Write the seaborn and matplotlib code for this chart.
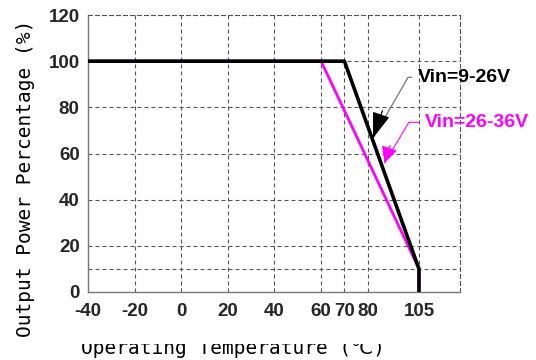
import matplotlib
matplotlib.use("Agg")
import matplotlib.pyplot as plt
import seaborn as sns
import pandas as pd
import numpy as np
from matplotlib.patches import Rectangle

# ---- data ----
temp_9_26 = [-40, 70, 105, 105]
power_9_26 = [100, 100, 10, 0]
temp_26_36 = [-40, 60, 105, 105]
power_26_36 = [100, 100, 10, 0]
x_ticks = [-40, -20, 0, 20, 40, 60, 70, 80, 105]
x_tick_labels = ["-40", "-20", "0", "20", "40", "60", "70", "80", "105"]
y_ticks = [0, 20, 40, 60, 80, 100, 120]
y_tick_labels = ["0", "20", "40", "60", "80", "100", "120"]
label_9_26 = "Vin=9-26V"
label_26_36 = "Vin=26-36V"

df1 = pd.DataFrame({"t": temp_9_26, "p": power_9_26})
df2 = pd.DataFrame({"t": temp_26_36, "p": power_26_36})

sns.set_style("white")

fig = plt.figure(figsize=(5.36, 3.6), dpi=100)
ax = fig.add_axes([88/536, 1-292/360, (460-88)/536, (292-15)/360])

# piecewise axis (original drawing compresses the range above 80)
def fwd(x):
    x = np.asarray(x, dtype=float)
    return np.where(x <= 80, x, 80 + (x - 80) * 0.88)

def inv(x):
    x = np.asarray(x, dtype=float)
    return np.where(x <= 80, x, 80 + (x - 80) / 0.88)

ax.set_xscale("function", functions=(fwd, inv))
ax.set_xlim(-40, 125)
ax.set_ylim(0, 120)

grid_kw = dict(color="#555555", lw=0.8, linestyle=(0, (3.6, 2.7)), zorder=1)
for xv in x_ticks[1:]:
    ax.axvline(xv, **grid_kw)
for yv in [10, 20, 40, 60, 80, 100]:
    ax.axhline(yv, **grid_kw)

sns.lineplot(data=df2, x="t", y="p", ax=ax, color="#FF00FF", lw=2.0,
             estimator=None, sort=False, zorder=3)
sns.lineplot(data=df1, x="t", y="p", ax=ax, color="black", lw=2.6,
             estimator=None, sort=False, zorder=4)

for s in ["left", "bottom"]:
    ax.spines[s].set_color("#777777")
    ax.spines[s].set_linewidth(1.0)
for s in ["top", "right"]:
    ax.spines[s].set_color("#555555")
    ax.spines[s].set_linewidth(0.8)
    ax.spines[s].set_linestyle((0, (3.6, 2.7)))

ax.set_xticks(x_ticks)
ax.set_xticklabels(x_tick_labels)
ax.set_yticks(y_ticks)
ax.set_yticklabels(y_tick_labels)
ax.minorticks_off()
ax.tick_params(axis="both", length=0, labelsize=13.5)
ax.tick_params(axis="x", pad=8)
ax.tick_params(axis="y", pad=6)
for t in ax.get_xticklabels() + ax.get_yticklabels():
    t.set_fontweight("bold")
    t.set_family("Liberation Sans")
ax.set_xlabel("")
ax.set_ylabel("")

# annotations
ax.annotate(label_9_26, xy=(82.6, 66.7), xytext=(104.5, 93.0),
            textcoords="data", ha="left", va="center",
            fontsize=14, fontweight="bold", family="Liberation Sans", color="black",
            arrowprops=dict(arrowstyle="-", color="#777777", lw=0.9,
                            connectionstyle="angle,angleA=0,angleB=60,rad=0",
                            relpos=(0, 0.5), shrinkB=0))
ax.annotate("", xy=(82.6, 66.7), xytext=(87.2, 78.5), textcoords="data",
            arrowprops=dict(arrowstyle="-|>,head_length=1.6,head_width=0.55",
                            color="black", lw=0.9, shrinkA=0, shrinkB=0,
                            mutation_scale=10))

ax.annotate(label_26_36, xy=(88.2, 55.9), xytext=(108.0, 73.5),
            textcoords="data", ha="left", va="center",
            fontsize=14, fontweight="bold", family="Liberation Sans", color="#FF00FF",
            arrowprops=dict(arrowstyle="-", color="#FF00FF", lw=0.8,
                            connectionstyle="angle,angleA=0,angleB=59,rad=0",
                            relpos=(0, 0.5), shrinkB=0))
ax.annotate("", xy=(88.2, 55.9), xytext=(91.0, 63.5), textcoords="data",
            arrowprops=dict(arrowstyle="-|>,head_length=1.0,head_width=0.5",
                            color="#FF00FF", lw=0.8, shrinkA=0, shrinkB=0,
                            mutation_scale=10))

# axis titles
fig.text(26/536, 1-178/360, "Output Power Percentage (%)", rotation=90,
         ha="center", va="center", fontsize=14,
         family=["DejaVu Sans Mono", "DejaVu Sans"], color="black")
fig.text(233/536, 1-354/360, "Operating Temperature (\u2103)", ha="center",
         va="baseline", fontsize=14,
         family=["DejaVu Sans Mono", "DejaVu Sans"], color="black")
# the reference crops off the upper part of the x title
fig.patches.append(Rectangle((0.1, 1-344/360), 0.8, 20/360, transform=fig.transFigure,
                             facecolor="white", edgecolor="none", zorder=10))

fig.savefig("out.png", dpi=100)
